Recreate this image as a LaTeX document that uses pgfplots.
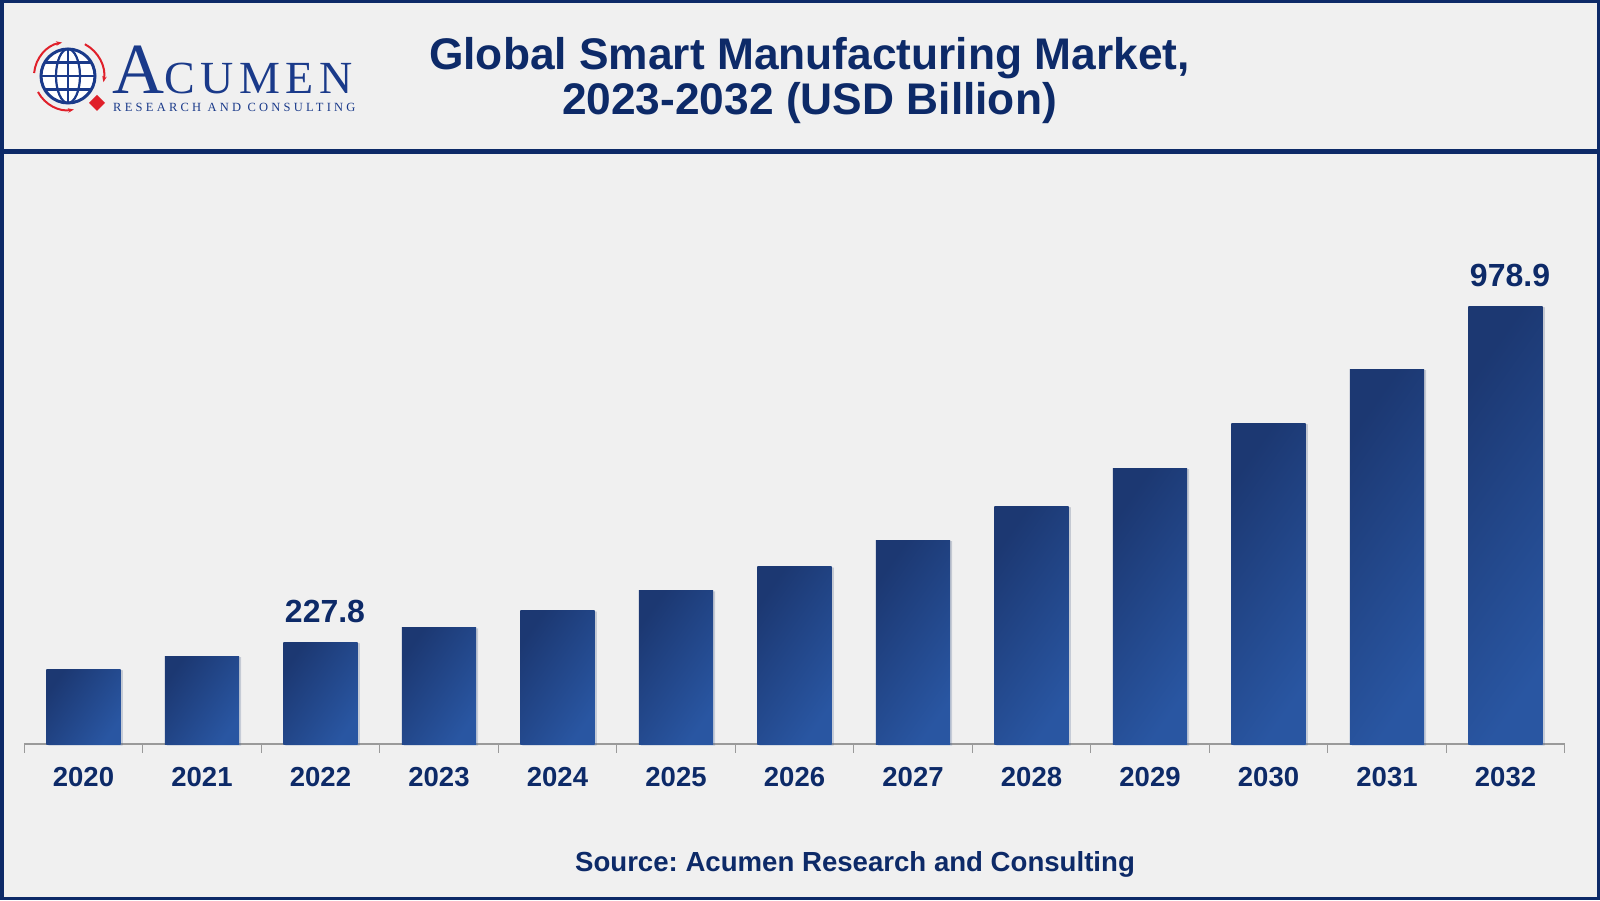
\documentclass[border=0pt]{standalone}
\usepackage{fontspec}
\setmainfont{Liberation Sans}
\newfontfamily\seriflogo{Liberation Serif}
\newfontfamily\seriflogow[LetterSpace=12]{Liberation Serif}
\newfontfamily\serifspaced[LetterSpace=26]{Liberation Serif}
\usepackage{pgfplots}
\pgfplotsset{compat=1.18}
\usetikzlibrary{shadows,arrows.meta}
\definecolor{navy}{HTML}{0D2A68}
\definecolor{logoblue}{HTML}{1A3A8A}
\definecolor{bg}{HTML}{F0F0F0}
\definecolor{bardark}{HTML}{1C3872}
\definecolor{barlight}{HTML}{2956A2}
\definecolor{logored}{HTML}{E0202A}
\definecolor{axisgray}{HTML}{9A9A9A}
\frenchspacing
\begin{document}
\begin{tikzpicture}[x=1pt,y=1pt]
\useasboundingbox (0,0) rectangle (1600,900);
\fill[bg] (0,0) rectangle (1600,900);
% header separator
\fill[navy] (0,746) rectangle (1600,750.5);
% frame
\draw[navy, line width=3.5pt] (1.75,1.75) rectangle (1598.25,898.25);

% title
\node[anchor=base, inner sep=0pt, text=navy, font=\bfseries\fontsize{44.3}{44.3}\selectfont] at (809.5,830) {Global Smart Manufacturing Market,};
\node[anchor=base, inner sep=0pt, text=navy, font=\bfseries\fontsize{44.3}{44.3}\selectfont] at (809.5,785) {2023-2032 (USD Billion)};

% source
\node[anchor=base, inner sep=0pt, text=navy, font=\bfseries\fontsize{27.6}{27.6}\selectfont] at (855,28.3) {Source: Acumen Research and Consulting};

% logo
\begin{scope}[shift={(68,824)}]
  \fill[white] (0,0) circle (27);
  \draw[logoblue, line width=3pt] (0,0) circle (27);
  \draw[logoblue, line width=2.2pt] (0,0) ellipse (12 and 27);
  \draw[logoblue, line width=2.2pt] (0,-27) -- (0,27);
  \draw[logoblue, line width=2.2pt] (-27,0) -- (27,0);
  \draw[logoblue, line width=2.2pt] (-23.3,13.5) -- (23.3,13.5);
  \draw[logoblue, line width=2.2pt] (-23.3,-13.5) -- (23.3,-13.5);
  \draw[logored, line width=2pt, -{Stealth[length=6pt]}] (175:34) arc (175:100:34);
  \draw[logored, line width=2pt, -{Stealth[length=6pt]}] (62:36) arc (62:-10:36);
  \draw[logored, line width=2pt, -{Stealth[length=6pt]}] (208:34) arc (208:280:34);
\end{scope}
\fill[logored] (97,805) -- (105,797) -- (97,789) -- (89,797) -- cycle;
\node[anchor=base west, inner sep=0pt, text=logoblue] at (112,806.7) {\seriflogo\fontsize{72}{72}\selectfont A\seriflogow\fontsize{46}{46}\selectfont CUMEN};
\node[anchor=base west, inner sep=0pt, text=logoblue] at (113,788.3) {\serifspaced\fontsize{12.5}{12.5}\selectfont RESEARCH AND CONSULTING};

\begin{axis}[
  at={(24.25pt,156pt)}, anchor=south west,
  scale only axis, width=1540.5pt, height=492.1pt,
  xmin=-0.5, xmax=12.5, ymin=0, ymax=1100,
  axis y line=none, axis x line*=bottom,
  x axis line style={axisgray, line width=1.5pt, -},
  xtick={0,1,2,3,4,5,6,7,8,9,10,11,12},
  xticklabels={2020,2021,2022,2023,2024,2025,2026,2027,2028,2029,2030,2031,2032},
  minor xtick={-0.5,0.5,1.5,2.5,3.5,4.5,5.5,6.5,7.5,8.5,9.5,10.5,11.5,12.5},
  tick align=outside, major tick length=0pt, minor tick length=8.5pt,
  minor tick style={axisgray, line width=1.2pt},
  xticklabel style={anchor=base, inner sep=0pt, yshift=-42.7pt, text=navy, font=\bfseries\fontsize{27.5}{27.5}\selectfont},
  clip=false,
  mybar/.style={ybar, bar width=74.3pt, draw=none,
    top color=bardark, bottom color=barlight, shading angle=55,
    drop shadow={shadow xshift=2pt, shadow yshift=-1pt, opacity=0.14}},
]
\addplot[mybar] coordinates {(0,167.6)};
\addplot[mybar] coordinates {(1,196.0)};
\addplot[mybar] coordinates {(2,227.8)};
\addplot[mybar] coordinates {(3,260.0)};
\addplot[mybar] coordinates {(4,298.0)};
\addplot[mybar] coordinates {(5,342.6)};
\addplot[mybar] coordinates {(6,396.3)};
\addplot[mybar] coordinates {(7,456.0)};
\addplot[mybar] coordinates {(8,531.5)};
\addplot[mybar] coordinates {(9,616.9)};
\addplot[mybar] coordinates {(10,717.5)};
\addplot[mybar] coordinates {(11,838.2)};
\addplot[mybar] coordinates {(12,978.9)};
\addplot[draw=none, mark=none, point meta=explicit symbolic, nodes near coords,
  nodes near coords style={anchor=base, inner sep=0pt, yshift=20pt, xshift=4.5pt, text=navy, font=\bfseries\fontsize{32}{32}\selectfont}]
  coordinates {(2,227.8) [227.8] (12,978.9) [978.9]};
\end{axis}
\end{tikzpicture}
\end{document}
